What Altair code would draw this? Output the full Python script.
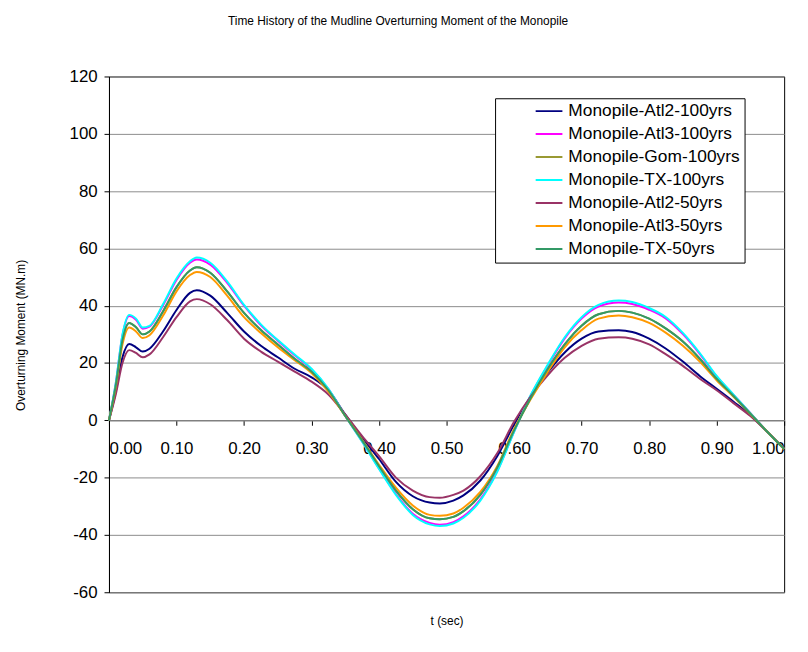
import altair as alt
import pandas as pd

T = [0, 0.01, 0.02, 0.03, 0.04, 0.05, 0.06, 0.08, 0.10, 0.12, 0.13, 0.15, 0.175, 0.20, 0.225,
     0.25, 0.275, 0.30, 0.325, 0.35, 0.375, 0.40, 0.425, 0.45, 0.475, 0.49, 0.51, 0.525, 0.55,
     0.575, 0.60, 0.625, 0.65, 0.675, 0.70, 0.725, 0.755, 0.775, 0.80, 0.825, 0.85, 0.875, 0.90,
     0.925, 0.95, 0.975, 1.0]

SERIES = ["Monopile-Atl2-100yrs", "Monopile-Atl3-100yrs", "Monopile-Gom-100yrs",
          "Monopile-TX-100yrs", "Monopile-Atl2-50yrs", "Monopile-Atl3-50yrs", "Monopile-TX-50yrs"]
COLORS = ["#000080", "#FF00FF", "#999933", "#00FFFF", "#993366", "#FF9900", "#339966"]

ATL2_100 = [0, 10, 22, 26.6, 25.5, 24, 25, 31, 38.5, 44.5, 45.4, 43.5, 37.5, 31, 26, 22, 18, 15,
            10.5, 2, -6, -13.5, -21.5, -26.5, -28.7, -29, -28, -26.2, -21, -12.5, -1.5, 8.5, 16.8,
            23.7, 28.5, 31, 31.4, 30.8, 28.5, 25, 20.5, 15.5, 11, 6.5, 1.8, -4, -10]
ATL3_100 = [0, 12.8, 29.7, 36.4, 35.1, 32, 32.7, 40.1, 49, 55, 56.1, 54.3, 48, 40, 33.2, 27.8,
            22.7, 17.8, 10.9, 1.5, -7.4, -16.8, -25.7, -32.6, -35.8, -36.4, -35.5, -33.5, -27.6,
            -17.7, -3.9, 8.8, 19.2, 28.6, 35.5, 39.7, 41.1, 40.6, 38.6, 35.5, 30.1, 23.2, 15.3,
            8.9, 2.5, -4, -10]
GOM_100 = [0, 12, 28, 34, 32.5, 30, 31, 38, 46.5, 52.3, 53.4, 51.5, 45, 37.5, 31.5, 26.5, 21.5,
           17, 10.5, 1.5, -7, -16, -24.5, -31, -34.2, -34.5, -33.7, -31.7, -26, -16.5, -3.5, 8,
           18, 26.5, 33, 37, 38.2, 37.6, 35.5, 32, 27.5, 21.5, 14.5, 8.5, 2.3, -4, -10]
TX_100 = [0, 13, 30, 36.8, 35.5, 32.4, 33, 40.5, 49.5, 55.5, 56.8, 55, 48.5, 40.3, 33.5, 28, 23,
          18, 11, 1.5, -7.5, -17, -26, -33, -36.3, -36.9, -36, -34, -28, -18, -4, 9, 19.5, 29,
          36, 40.3, 41.8, 41.3, 39.2, 36, 30.5, 23.5, 15.5, 9, 2.5, -4, -10]
ATL2_50 = [0, 9, 20, 24.5, 23.5, 22, 23, 29, 36, 41.5, 42.3, 40.5, 35, 28.5, 24, 20.5, 17, 13.5,
           9, 2, -5.5, -12.5, -20, -24.5, -26.8, -27, -26, -24.5, -19.5, -11.5, -0.5, 8.5, 15.8,
           21.8, 26, 28.5, 29, 28.5, 26.5, 23, 19, 14.5, 10.5, 6, 1.5, -4, -10]
ATL3_50 = [0, 11.5, 26.5, 32.4, 31, 28.7, 29.7, 36.5, 45, 50.7, 51.8, 50, 43.5, 36, 30.5, 25.5,
           21, 16.5, 10, 1.5, -6.8, -15.5, -23.5, -29.7, -33, -33.3, -32.5, -30.5, -25, -16, -3,
           7.5, 17, 25.5, 31.5, 35.5, 36.6, 36, 34, 30.5, 26, 20.5, 14, 8.2, 2.2, -4, -10]
TX_50 = [0, 12, 28, 34, 32.5, 30, 31, 38, 46.5, 52.3, 53.4, 51.5, 45, 37.5, 31.5, 26.5, 21.5, 17,
         10.5, 1.5, -7, -16, -24.5, -31, -34.2, -34.5, -33.7, -31.7, -26, -16.5, -3.5, 8, 18,
         26.5, 33, 37, 38.2, 37.6, 35.5, 32, 27.5, 21.5, 14.5, 8.5, 2.3, -4, -10]

X_TICKS = [0, 0.1, 0.2, 0.3, 0.4, 0.5, 0.6, 0.7, 0.8, 0.9, 1.0]
Y_TICKS = [-60, -40, -20, 0, 20, 40, 60, 80, 100, 120]

rows = []
for k, (name, vals) in enumerate(zip(SERIES, [ATL2_100, ATL3_100, GOM_100, TX_100,
                                              ATL2_50, ATL3_50, TX_50])):
    for t, v in zip(T, vals):
        rows.append({"t": t, "m": v, "series": name, "k": k})
df = pd.DataFrame(rows)

FONT = "Liberation Sans"

chart = alt.Chart(df).mark_line(interpolate="monotone", strokeWidth=2).encode(
    x=alt.X("t:Q", scale=alt.Scale(domain=[0, 1], nice=False, zero=False),
            axis=alt.Axis(values=X_TICKS, format=".2f", orient="bottom", offset=-173.7,
                          grid=False, domainColor="#808080", domainWidth=1.5,
                          tickColor="#000000", tickSize=5, labelFontSize=17, labelPadding=16,
                          labelColor="#000000", title="t (sec)", titleFontSize=12,
                          titleFontWeight="normal", titleColor="#000000", titleY=202,
                          titleBaseline="middle")),
    y=alt.Y("m:Q", scale=alt.Scale(domain=[-60, 120], nice=False),
            axis=alt.Axis(values=Y_TICKS, grid=True, gridColor="#8c8c8c", gridWidth=1,
                          domainColor="#000000", tickColor="#000000", tickSize=5,
                          labelFontSize=17, labelPadding=7, labelColor="#000000",
                          labelExpr="toString(datum.value)",
                          title="Overturning Moment (MN.m)", titleFontSize=12,
                          titleFontWeight="normal", titleColor="#000000", titleX=-89,
                          titleY=261, titleAngle=-90, titleAlign="center",
                          titleBaseline="middle")),
    color=alt.Color("series:N", scale=alt.Scale(domain=SERIES, range=COLORS),
                    legend=alt.Legend(title=None, orient="none", legendX=390, legendY=22,
                                      strokeColor="#000000", fillColor="#ffffff", padding=4,
                                      symbolType="stroke", symbolSize=729, symbolStrokeWidth=2,
                                      labelFontSize=17.5, labelOffset=5, rowPadding=5.2,
                                      clipHeight=18, symbolOffset=36, labelLimit=400,
                                      labelColor="#000000",
                                      labelExpr="datum.label + '   '")),
    order=alt.Order("k:Q"),
).properties(
    width=682, height=521,
    title=alt.TitleParams("Time History of the Mudline Overturning Moment of the Monopile",
                          fontSize=12, fontWeight="normal", anchor="middle", frame="group",
                          dx=-49, offset=40, color="#000000"),
    autosize=alt.AutoSizeParams(type="none"),
    padding={"left": 102, "top": 66, "right": 16, "bottom": 40},
).configure(font=FONT).configure_view(stroke="#000000", strokeWidth=1)

chart.save("out.html", embed_options={"renderer": "svg", "actions": False})
